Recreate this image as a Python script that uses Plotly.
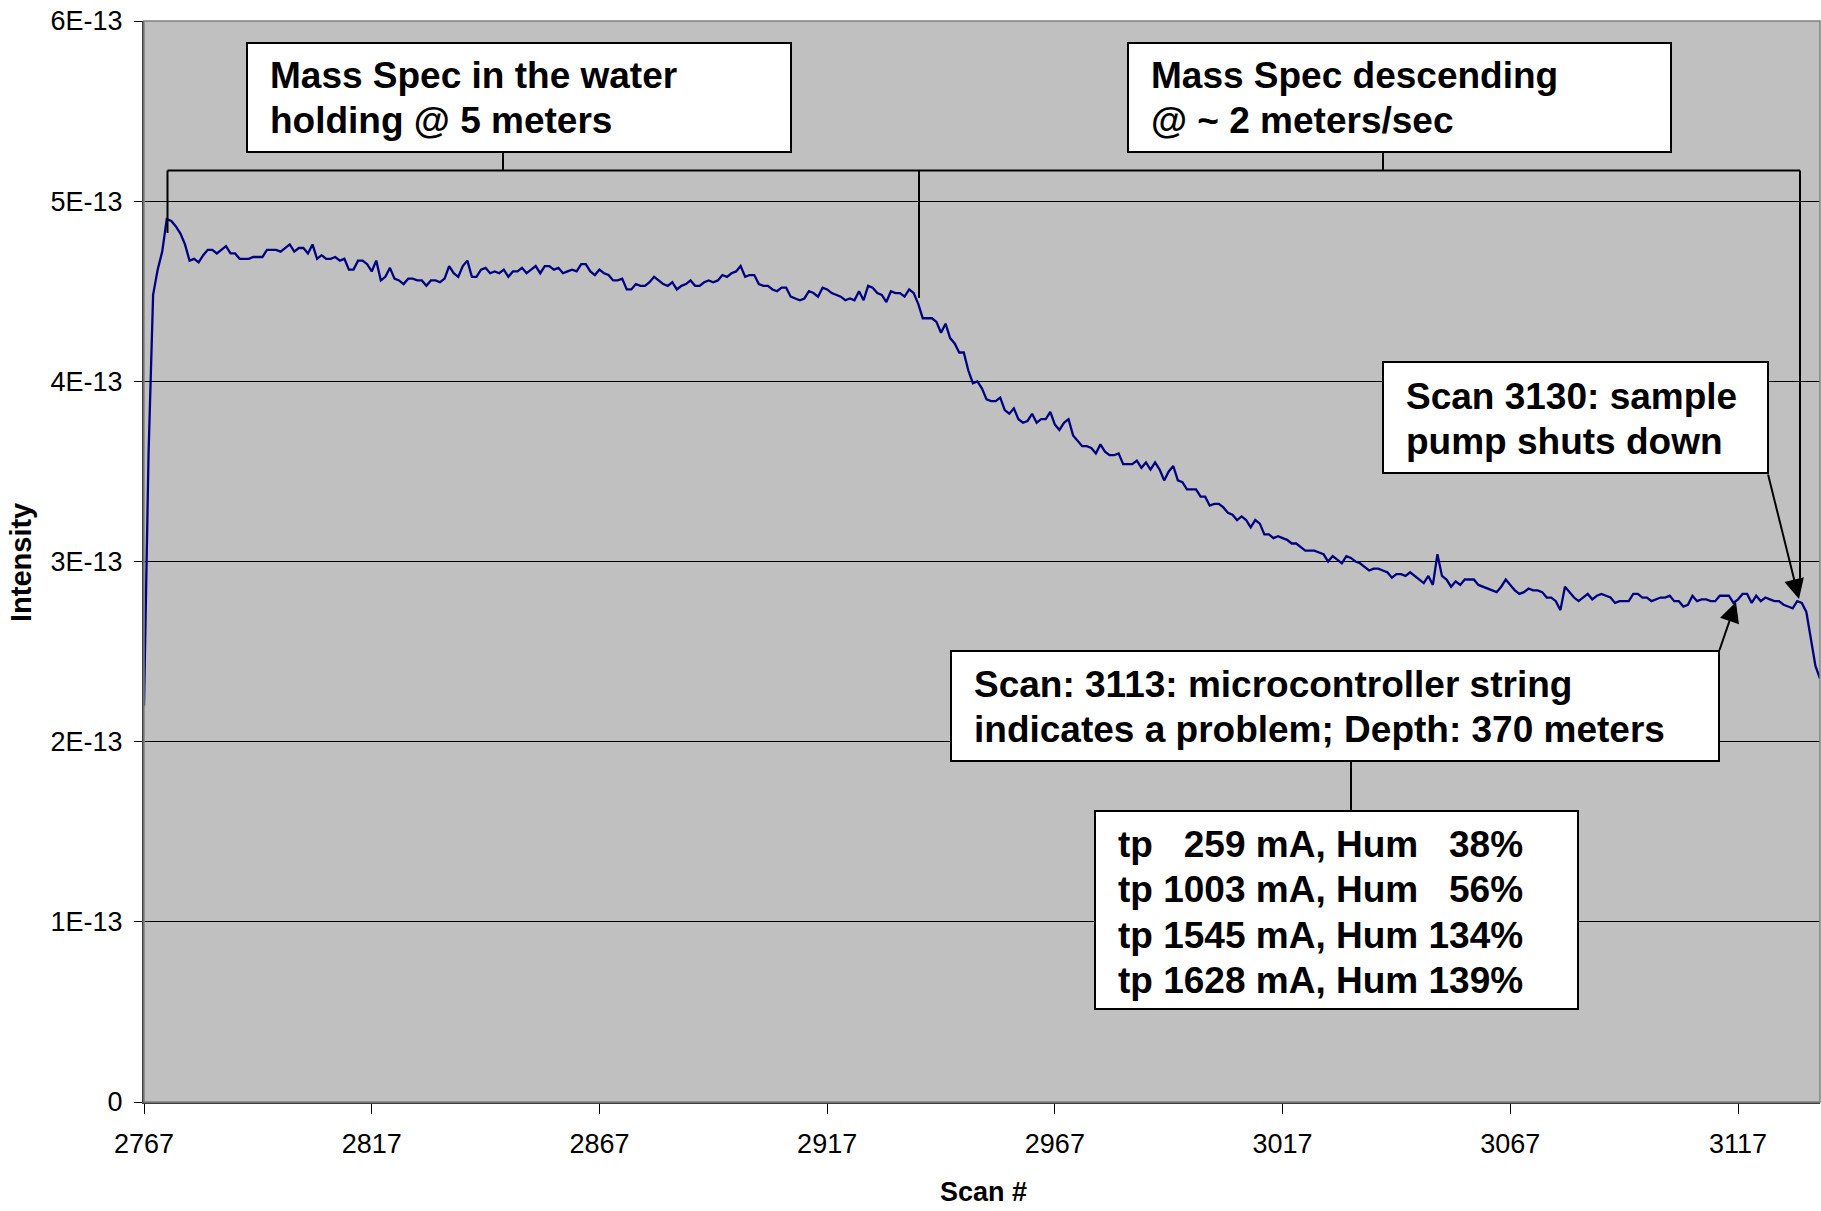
import plotly.graph_objects as go

# ---------------- data ----------------
first_scan = 2767
# intensity, in units of 1E-13 (one value per scan, 2767..3135)
intensity_e13 = [
    2.20, 3.60, 4.48, 4.62, 4.72, 4.90, 4.89, 4.86, 4.82, 4.76,
    4.67, 4.68, 4.66, 4.70, 4.73, 4.73, 4.71, 4.73, 4.75, 4.71,
    4.71, 4.68, 4.68, 4.68, 4.69, 4.69, 4.69, 4.73, 4.73, 4.73,
    4.72, 4.74, 4.76, 4.72, 4.74, 4.74, 4.71, 4.76, 4.68, 4.70,
    4.68, 4.68, 4.69, 4.67, 4.68, 4.62, 4.62, 4.67, 4.67, 4.65,
    4.61, 4.67, 4.56, 4.58, 4.63, 4.57, 4.56, 4.54, 4.57, 4.57,
    4.56, 4.56, 4.53, 4.56, 4.56, 4.55, 4.57, 4.64, 4.60, 4.58,
    4.64, 4.67, 4.58, 4.58, 4.62, 4.63, 4.60, 4.61, 4.60, 4.62,
    4.58, 4.61, 4.61, 4.63, 4.60, 4.62, 4.64, 4.60, 4.64, 4.64,
    4.62, 4.63, 4.60, 4.61, 4.62, 4.61, 4.65, 4.65, 4.61, 4.59,
    4.62, 4.60, 4.59, 4.56, 4.56, 4.57, 4.51, 4.51, 4.54, 4.53,
    4.53, 4.55, 4.58, 4.56, 4.54, 4.53, 4.55, 4.51, 4.53, 4.54,
    4.56, 4.53, 4.53, 4.55, 4.56, 4.55, 4.56, 4.59, 4.58, 4.60,
    4.61, 4.64, 4.58, 4.59, 4.59, 4.54, 4.53, 4.53, 4.51, 4.50,
    4.52, 4.52, 4.47, 4.46, 4.45, 4.46, 4.50, 4.49, 4.47, 4.52,
    4.51, 4.49, 4.48, 4.47, 4.45, 4.46, 4.45, 4.50, 4.45, 4.53,
    4.52, 4.49, 4.48, 4.44, 4.50, 4.49, 4.49, 4.47, 4.51, 4.49,
    4.43, 4.35, 4.35, 4.35, 4.33, 4.27, 4.32, 4.24, 4.21, 4.16,
    4.16, 4.06, 3.99, 4.00, 3.96, 3.90, 3.89, 3.89, 3.91, 3.84,
    3.82, 3.85, 3.79, 3.77, 3.78, 3.82, 3.77, 3.79, 3.79, 3.83,
    3.76, 3.73, 3.77, 3.79, 3.70, 3.67, 3.64, 3.64, 3.63, 3.60,
    3.65, 3.61, 3.59, 3.59, 3.60, 3.54, 3.54, 3.54, 3.56, 3.52,
    3.55, 3.51, 3.55, 3.51, 3.45, 3.50, 3.53, 3.45, 3.44, 3.40,
    3.40, 3.40, 3.36, 3.36, 3.31, 3.32, 3.32, 3.30, 3.27, 3.26,
    3.23, 3.25, 3.23, 3.19, 3.23, 3.21, 3.15, 3.15, 3.13, 3.14,
    3.13, 3.12, 3.10, 3.10, 3.08, 3.06, 3.06, 3.06, 3.05, 3.04,
    3.00, 3.03, 3.01, 2.99, 3.03, 3.02, 3.00, 2.99, 2.97, 2.95,
    2.96, 2.96, 2.95, 2.94, 2.91, 2.93, 2.93, 2.92, 2.94, 2.92,
    2.90, 2.88, 2.92, 2.87, 3.04, 2.92, 2.90, 2.86, 2.89, 2.87,
    2.90, 2.90, 2.90, 2.87, 2.86, 2.85, 2.84, 2.83, 2.86, 2.90,
    2.87, 2.84, 2.82, 2.83, 2.85, 2.84, 2.84, 2.83, 2.80, 2.80,
    2.78, 2.73, 2.86, 2.83, 2.80, 2.78, 2.80, 2.82, 2.79, 2.81,
    2.82, 2.81, 2.80, 2.77, 2.78, 2.78, 2.78, 2.82, 2.82, 2.80,
    2.80, 2.78, 2.79, 2.80, 2.80, 2.81, 2.78, 2.78, 2.75, 2.76,
    2.81, 2.78, 2.79, 2.79, 2.78, 2.78, 2.81, 2.81, 2.81, 2.77,
    2.79, 2.82, 2.82, 2.77, 2.81, 2.78, 2.80, 2.79, 2.78, 2.78,
    2.76, 2.75, 2.74, 2.78, 2.77, 2.72, 2.58, 2.42, 2.35,
]
scans = [first_scan + k for k in range(len(intensity_e13))]
intensity = [v * 1e-13 for v in intensity_e13]

x_tick_vals = [2767, 2817, 2867, 2917, 2967, 3017, 3067, 3117]
x_tick_text = ["2767", "2817", "2867", "2917", "2967", "3017", "3067", "3117"]
y_tick_vals = [0, 1e-13, 2e-13, 3e-13, 4e-13, 5e-13, 6e-13]
y_tick_text = ["0", "1E-13", "2E-13", "3E-13", "4E-13", "5E-13", "6E-13"]

box_texts = [
    ["Mass Spec in the water", "holding @ 5 meters"],
    ["Mass Spec descending", "@ ~ 2 meters/sec"],
    ["Scan 3130: sample", "pump shuts down"],
    ["Scan: 3113: microcontroller string", "indicates a problem; Depth: 370 meters"],
    ["tp\u00a0\u00a0\u00a0259 mA, Hum\u00a0\u00a0\u00a038%",
     "tp 1003 mA, Hum\u00a0\u00a0\u00a056%",
     "tp 1545 mA, Hum 134%",
     "tp 1628 mA, Hum 139%"],
]

# ---------------- layout geometry (pixels) ----------------
W, H = 1821, 1211
L, T, R, B = 144, 21, 1, 109
PW, PH = W - L - R, H - T - B


def px(x):
    return (x - L) / PW


def py(y):
    return 1 - (y - T) / PH


FONT = "Liberation Sans, Arial, sans-serif"
TXT = 37

fig = go.Figure()
fig.add_trace(go.Scatter(x=scans, y=intensity, mode="lines",
                         line=dict(color="#000080", width=2.3),
                         showlegend=False, hoverinfo="skip"))

shapes = []
# callout boxes
boxes = [(247, 43, 791, 152), (1128, 43, 1671, 152), (1383, 362, 1768, 473),
         (951, 651, 1719, 761), (1095, 811, 1578, 1009)]
for (x0, y0, x1, y1) in boxes:
    shapes.append(dict(type="rect", xref="paper", yref="paper",
                       x0=px(x0), x1=px(x1), y0=py(y1), y1=py(y0),
                       fillcolor="white", line=dict(color="black", width=2),
                       layer="above"))
# bracket / connector lines
segs = [((167.5, 170.5), (1800, 170.5)),
        ((167.5, 170.5), (167.5, 233)),
        ((919, 170.5), (919, 298)),
        ((1800, 170.5), (1800, 590)),
        ((503, 152), (503, 170.5)),
        ((1383, 152), (1383, 170.5)),
        ((1351, 761), (1351, 811))]
for (a, b) in segs:
    shapes.append(dict(type="line", xref="paper", yref="paper",
                       x0=px(a[0]), y0=py(a[1]), x1=px(b[0]), y1=py(b[1]),
                       line=dict(color="black", width=2), layer="above"))
# plot-area border
shapes.append(dict(type="rect", xref="paper", yref="paper", x0=0, x1=1, y0=0, y1=1,
                   line=dict(color="#808080", width=1.5), layer="above"))

annotations = []
line_pos = [
    (268, [75.5, 121]),
    (1149, [75.5, 121]),
    (1404, [396, 441.5]),
    (972, [684, 729.5]),
    (1116, [844, 889.5, 935, 980]),
]
for (xl, ys), lines in zip(line_pos, box_texts):
    for yc, t in zip(ys, lines):
        annotations.append(dict(xref="paper", yref="paper", x=px(xl), y=py(yc),
                                xanchor="left", yanchor="middle", text="<b>%s</b>" % t,
                                showarrow=False,
                                font=dict(family=FONT, size=TXT, color="black")))
# arrows
arrows = [((1799, 599), (1767.7, 473)), ((1736, 602), (1719, 651.5))]
for tip, tail in arrows:
    annotations.append(dict(xref="paper", yref="paper", x=px(tip[0]), y=py(tip[1]),
                            ax=tail[0] - tip[0], ay=tail[1] - tip[1], text="",
                            showarrow=True, arrowhead=2, arrowsize=2, arrowwidth=2,
                            arrowcolor="black", standoff=0, startstandoff=0))
# axis titles
annotations.append(dict(xref="paper", yref="paper", x=px(983.5), y=py(1192),
                        xanchor="center", yanchor="middle", text="<b>Scan #</b>",
                        showarrow=False, borderpad=0,
                        font=dict(family=FONT, size=27, color="black")))
annotations.append(dict(xref="paper", yref="paper", x=px(21), y=py(563),
                        xanchor="center", yanchor="middle", text="<b>Intensity</b>",
                        textangle=-90, showarrow=False,
                        font=dict(family=FONT, size=29, color="black")))

fig.update_layout(
    width=W, height=H, margin=dict(l=L, r=R, t=T, b=B, pad=0),
    paper_bgcolor="white", plot_bgcolor="#C0C0C0",
    shapes=shapes, annotations=annotations, showlegend=False,
    font=dict(family=FONT, color="black"),
)
fig.update_xaxes(range=[2767, 3135], tickmode="array", tickvals=x_tick_vals,
                 ticktext=x_tick_text, ticks="outside", ticklen=10, tickwidth=1,
                 tickcolor="black", showgrid=False, zeroline=False, showline=True,
                 linecolor="#404040", linewidth=2,
                 tickfont=dict(family=FONT, size=27, color="black"),
                 ticklabelstandoff=7)
fig.update_yaxes(range=[0, 6e-13], tickmode="array", tickvals=y_tick_vals,
                 ticktext=y_tick_text, ticks="outside", ticklen=8, tickwidth=1,
                 tickcolor="black", showgrid=True, gridcolor="black", gridwidth=1,
                 zeroline=False, showline=True, linecolor="#404040", linewidth=2,
                 tickfont=dict(family=FONT, size=27, color="black"),
                 ticklabelstandoff=6)

fig.write_html("out.html", config={"displayModeBar": False})
with open("out.html", "r", encoding="utf-8") as f:
    html = f.read()
html = html.replace("<body>", '<body style="margin:0;overflow:hidden">', 1)
with open("out.html", "w", encoding="utf-8") as f:
    f.write(html)
